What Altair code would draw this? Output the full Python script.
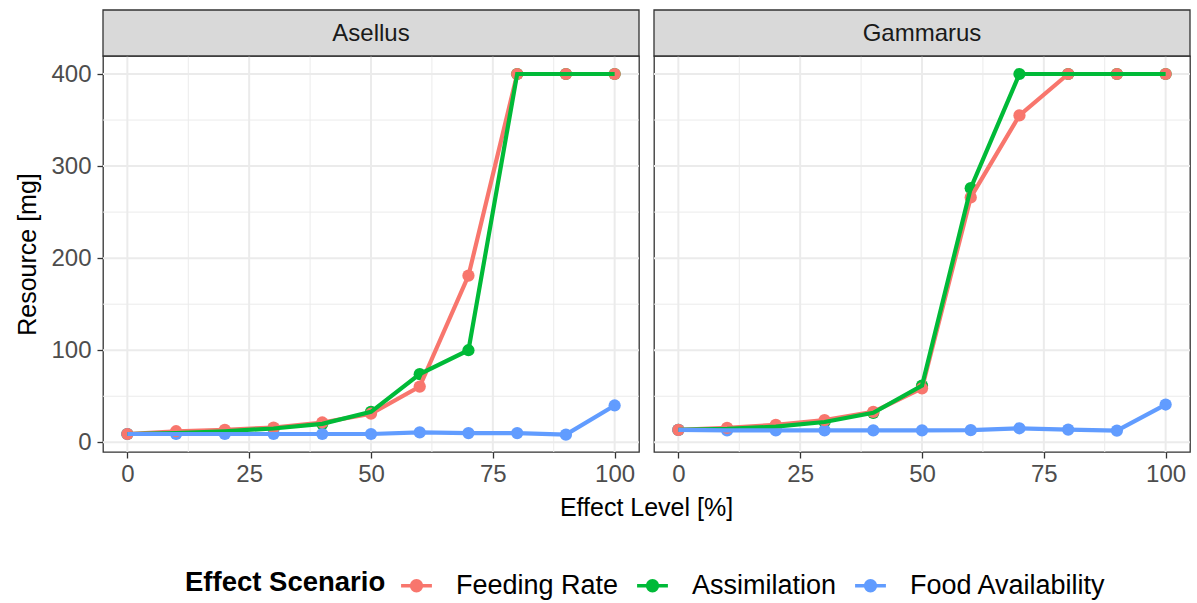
import altair as alt
import pandas as pd

levels = [0, 10, 20, 30, 40, 50, 60, 70, 80, 90, 100]
species = ["Asellus", "Gammarus"]
scenarios = ["Feeding Rate", "Assimilation", "Food Availability"]
colors = ["#F8766D", "#00BA38", "#619CFF"]

asellus_feeding = [9, 12, 13.6, 16, 21.5, 31, 60.5, 181, 400, 400, 400]
asellus_assim = [9, 10, 12, 15, 20, 33, 74, 100, 400, 400, 400]
asellus_food = [9, 9, 9, 9, 9, 9, 10.8, 10, 10, 8.3, 40]
gammarus_feeding = [13.4, 15.6, 19, 24, 33, 58.6, 266, 355, 400, 400, 400]
gammarus_assim = [13.4, 14.5, 17, 22, 32, 61.5, 276, 400, 400, 400, 400]
gammarus_food = [13.4, 13, 13, 13, 13, 13, 13.2, 15.2, 13.8, 12.7, 41]

x_major = [0, 25, 50, 75, 100]
x_minor = [12.5, 37.5, 62.5, 87.5]
y_major = [0, 100, 200, 300, 400]
y_minor = [50, 150, 250, 350]

series = {
    "Asellus": [asellus_feeding, asellus_assim, asellus_food],
    "Gammarus": [gammarus_feeding, gammarus_assim, gammarus_food],
}

W, H = 536, 396
FONT = "Liberation Sans"

color_scale = alt.Scale(domain=scenarios, range=colors)
x_scale = alt.Scale(domain=[-5, 105], nice=False, zero=False)
y_scale = alt.Scale(domain=[-10.55, 419.55], nice=False, zero=False)

path_sym = "M-1,0H1M-0.32,0a0.32,0.32 0 1,0 0.64,0a0.32,0.32 0 1,0 -0.64,0"


def panel(name, first):
    rows = []
    for s, vals in zip(scenarios, series[name]):
        for lv, v in zip(levels, vals):
            rows.append({"level": lv, "value": v, "scenario": s})
    df = pd.DataFrame(rows)
    order_pts = {"Assimilation": 0, "Food Availability": 1, "Feeding Rate": 2}
    dfp = df.assign(o=df["scenario"].map(order_pts)).sort_values("o", kind="stable")

    if first:
        yaxis = alt.Axis(values=y_major, title="Resource [mg]", grid=False, domain=False,
                         tickColor="#333333", tickSize=6, tickWidth=1.3,
                         labelColor="#4D4D4D", labelFontSize=24, labelFont=FONT, labelPadding=6,
                         titleFontSize=25, titleFont=FONT, titleColor="#000000",
                         titleFontWeight="normal", titlePadding=10)
    else:
        yaxis = None
    xaxis = alt.Axis(values=x_major, title=None, grid=False, domain=False,
                     tickColor="#333333", tickSize=6, tickWidth=1.3,
                     labelColor="#4D4D4D", labelFontSize=24, labelFont=FONT, labelPadding=4)

    def X(f):
        return alt.X(f, scale=x_scale, axis=xaxis)

    def Y(f):
        return alt.Y(f, scale=y_scale, axis=yaxis)

    gridc = "#EBEBEB"
    l_xmin = alt.Chart(pd.DataFrame({"g": x_minor})).mark_rule(color=gridc, strokeWidth=1).encode(x=X("g:Q"))
    l_xmaj = alt.Chart(pd.DataFrame({"g": x_major})).mark_rule(color=gridc, strokeWidth=2).encode(x=X("g:Q"))
    l_ymin = alt.Chart(pd.DataFrame({"g": y_minor})).mark_rule(color=gridc, strokeWidth=1).encode(y=Y("g:Q"))
    l_ymaj = alt.Chart(pd.DataFrame({"g": y_major})).mark_rule(color=gridc, strokeWidth=2).encode(y=Y("g:Q"))

    pts = alt.Chart(dfp).mark_point(filled=True, size=150, opacity=1).encode(
        x=X("level:Q"),
        y=Y("value:Q"),
        color=alt.Color("scenario:N", scale=color_scale, legend=alt.Legend(
            title="Effect Scenario", orient="none", direction="horizontal",
            titleOrient="left", legendX=82, legendY=512,
            symbolType=path_sym, symbolSize=950, symbolStrokeWidth=3.5,
            titleFont=FONT, titleFontSize=27.5, titleFontWeight="bold", titleColor="#000000",
            titlePadding=13, titleLimit=0, labelLimit=0,
            labelFont=FONT, labelFontSize=27, labelColor="#000000",
            labelOffset=22, columnPadding=11, symbolOpacity=1)),
        order=alt.Order("o:Q"),
    )
    lines = alt.Chart(df).mark_line(strokeWidth=4.2).encode(
        x=X("level:Q"),
        y=Y("value:Q"),
        color=alt.Color("scenario:N", scale=color_scale),
        detail="scenario:N",
    )

    strip_df = pd.DataFrame({"name": [name]})
    strip = alt.Chart(strip_df).mark_rect(fill="#D9D9D9", stroke="#333333", strokeWidth=1.3).encode(
        x=alt.value(0), x2=alt.value(W), y=alt.value(-46), y2=alt.value(0))
    strip_txt = alt.Chart(strip_df).mark_text(font=FONT, fontSize=24, color="#1A1A1A",
                                              baseline="middle", align="center").encode(
        x=alt.value(W / 2), y=alt.value(-22), text="name:N")

    layers = [l_xmin, l_xmaj, l_ymin, l_ymaj, pts, lines, strip, strip_txt]
    if first:
        xt = alt.Chart(pd.DataFrame({"t": ["Effect Level [%]"]})).mark_text(
            font=FONT, fontSize=25, color="#000000", baseline="middle", align="center").encode(
            x=alt.value(W + 7.5), y=alt.value(452), text="t:N")
        layers.append(xt)
    return alt.layer(*layers).properties(width=W, height=H)


chart = alt.hconcat(panel("Asellus", True), panel("Gammarus", False),
                    spacing=15, bounds="flush").properties(
    padding={"left": 15, "top": 8, "right": 5, "bottom": 5},
    background="white",
).configure_view(stroke="#333333", strokeWidth=1.3)

chart.save("out.html", embed_options={"renderer": "svg", "actions": False})
